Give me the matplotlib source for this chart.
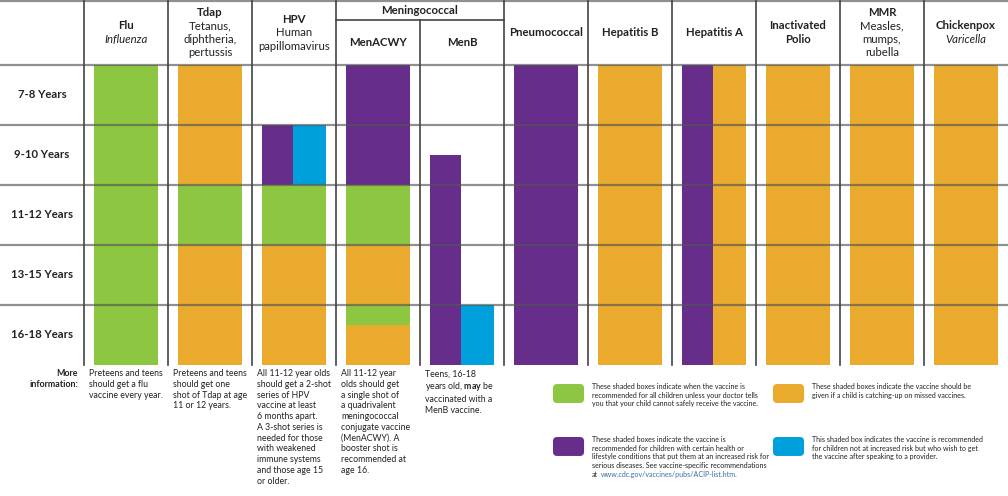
import matplotlib
matplotlib.use("Agg")
import matplotlib.pyplot as plt
from matplotlib.patches import FancyBboxPatch

plt.rcParams['font.family'] = ['Lato', 'DejaVu Sans']
plt.rcParams['mathtext.fontset'] = 'custom'
plt.rcParams['mathtext.rm'] = 'Lato'
plt.rcParams['mathtext.bf'] = 'Lato:bold'

# age groups (rows, top to bottom)
ages = ["7-8 Years", "9-10 Years", "11-12 Years", "13-15 Years", "16-18 Years"]

# column headers: bold title lines, plain/italic subtitle lines
titles = [["Flu"], ["Tdap"], ["HPV"], ["MenACWY"], ["MenB"], ["Pneumococcal"],
          ["Hepatitis B"], ["Hepatitis A"], ["Inactivated", "Polio"], ["MMR"], ["Chickenpox"]]
subtitles = [["Influenza"], ["Tetanus,", "diphtheria,", "pertussis"], ["Human", "papillomavirus"],
             [], [], [], [], [], [], ["Measles,", "mumps,", "rubella"], ["Varicella"]]
italic_sub = [True, False, False, False, False, False, False, False, False, False, True]
group_title = "Meningococcal"
group_cols = (3, 5)

# colour categories
colors = {"all": "#8DC640", "catchup": "#E9AA2E", "risk": "#662D8A", "discuss": "#00A0DC"}

# shaded boxes: column, lane, start row, end row, category
seg_col = [0, 1, 1, 1, 2, 2, 2, 2, 3, 3, 3, 3, 3, 4, 4, 5, 6, 7, 7, 8, 9, 10]
seg_lane = ["full", "full", "full", "full", "left", "right", "full", "full",
            "full", "full", "full", "full", "full", "left", "right",
            "full", "full", "left", "right", "full", "full", "full"]
seg_start = [0, 0, 2, 3, 1, 1, 2, 3, 0, 2, 3, 4, 4.33, 1.5, 4, 0, 0, 0, 0, 0, 0, 0]
seg_end = [5, 2, 3, 5, 2, 2, 3, 5, 2, 3, 4, 4.33, 5, 5, 5, 5, 5, 5, 5, 5, 5, 5]
seg_kind = ["all", "catchup", "all", "catchup", "risk", "discuss", "all", "catchup",
            "risk", "all", "catchup", "all", "catchup", "risk", "discuss",
            "risk", "catchup", "risk", "catchup", "catchup", "catchup", "catchup"]

# more information notes
notes = [
    "Preteens and teens\nshould get a flu\nvaccine every year.",
    "Preteens and teens\nshould get one\nshot of Tdap at age\n11 or 12 years.",
    "All 11-12 year olds\nshould get a 2-shot\nseries of HPV\nvaccine at least\n6 months apart.\n"
    "A 3-shot series is\nneeded for those\nwith weakened\nimmune systems\nand those age 15\nor older.",
    "All 11-12 year\nolds should get\na single shot of\na quadrivalent\nmeningococcal\nconjugate vaccine\n"
    "(MenACWY). A\nbooster shot is\nrecommended at\nage 16.",
    "Teens, 16-18\nyears old, $\\mathbf{may}$ be\nvaccinated with a\nMenB vaccine.",
]

legend_kind = ["all", "catchup", "risk", "discuss"]
legend_text = [
    "These shaded boxes indicate when the vaccine is\nrecommended for all children unless your doctor tells\n"
    "you that your child cannot safely receive the vaccine.",
    "These shaded boxes indicate the vaccine should be\ngiven if a child is catching-up on missed vaccines.",
    "These shaded boxes indicate the vaccine is\nrecommended for children with certain health or\n"
    "lifestyle conditions that put them at an increased risk for\nserious diseases. See vaccine-specific recommendations",
    "This shaded box indicates the vaccine is recommended\nfor children not at increased risk but who wish to get\n"
    "the vaccine after speaking to a provider.",
]
url = "www.cdc.gov/vaccines/pubs/ACIP-list.htm."

fig = plt.figure(figsize=(10.08, 4.96), dpi=100)
ax = fig.add_axes([0, 0, 1, 1])
ax.set_xlim(-1, 11)
ax.set_ylim(431 / 60, -65 / 60)
ax.axis("off")

# bars
lane_off = {"full": (0.12, 0.76), "left": (0.12, 0.37), "right": (0.49, 0.39)}
for c, lane, s, e, k in zip(seg_col, seg_lane, seg_start, seg_end, seg_kind):
    off, w = lane_off[lane]
    ax.bar(c + off, e - s, bottom=s, width=w, align="edge", color=colors[k], zorder=1)

# grid lines
top = -65 / 60
for y in [top + 0.01, 0, 1, 2, 3, 4]:
    ax.plot([-1, 11], [y, y], color="#555555", alpha=0.65, lw=1.6, zorder=3, solid_capstyle="butt")
for x in range(11):
    if x == 4:
        ax.plot([x, x], [-0.75, 5], color="#444444", lw=1.2, zorder=4)
    else:
        ax.plot([x, x], [top, 5], color="#444444", lw=1.2, zorder=4)
ax.plot(group_cols, [-0.75, -0.75], color="#444444", lw=1.2, zorder=4)
ax.text(sum(group_cols) / 2, -0.9, group_title, ha="center", va="center",
        fontsize=8.2, fontweight="bold", color="#222222")

# headers
line_h = 0.225
for i in range(11):
    lines = [(t, "bold") for t in titles[i]] + [(t, "italic" if italic_sub[i] else "normal") for t in subtitles[i]]
    center = -0.37 if i in (3, 4) else -0.54
    n = len(lines)
    for j, (t, style) in enumerate(lines):
        y = center + (j - (n - 1) / 2) * line_h
        ax.text(i + 0.5, y, t, ha="center", va="center", fontsize=8.2,
                fontweight="bold" if style == "bold" else "normal",
                fontstyle="italic" if style == "italic" else "normal", color="#222222")

# row labels
for r, a in enumerate(ages):
    ax.text(-0.5, r + 0.5, a, ha="center", va="center", fontsize=8.2, fontweight="bold", color="#222222")

# notes
ax.text(-0.07, 5.07, "More\ninformation:", ha="right", va="top", fontsize=6.4,
        fontweight="bold", color="#222222", linespacing=1.25)
for i, n in enumerate(notes):
    ax.text(i + 0.06, 5.07, n, ha="left", va="top", fontsize=6.3, color="#222222", linespacing=1.25)

# legend
leg_x = [5.583, 8.202, 5.583, 8.202]
leg_y = [5.317, 5.317, 6.2, 6.2]
for k, lx, ly, t in zip(legend_kind, leg_x, leg_y, legend_text):
    ax.add_patch(FancyBboxPatch((lx, ly), 0.37, 0.316, boxstyle="round,pad=0,rounding_size=0.05",
                                mutation_aspect=1.4, color=colors[k], lw=0))
    txt = ax.text(lx + 0.465, ly - 0.02, t, ha="left", va="top", fontsize=5.1, color="#222222", linespacing=1.3)
    if k == "risk":
        at = ax.annotate("at", xy=(0, 0), xycoords=txt, xytext=(0, -1.6), textcoords="offset points",
                         ha="left", va="top", fontsize=5.1, color="#222222")
        ax.annotate(url, xy=(1, 0), xycoords=at, xytext=(1.6, 0), textcoords="offset points",
                    ha="left", va="bottom", fontsize=5.1, color="#3B6FA8")

fig.savefig("out.png", dpi=100)
